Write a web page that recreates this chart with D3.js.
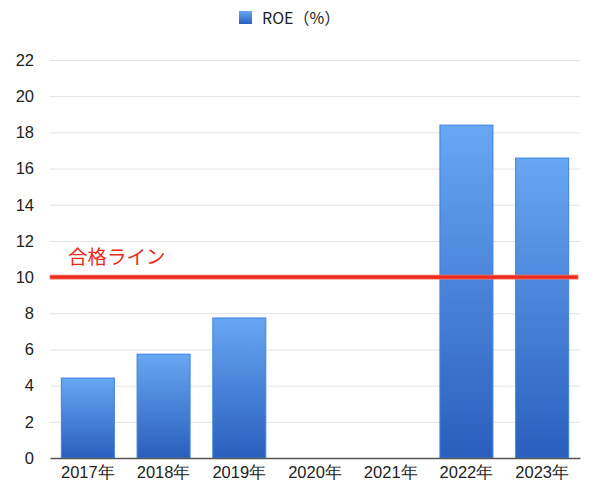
<!DOCTYPE html>
<html><head><meta charset="utf-8">
<script src="https://cdn.jsdelivr.net/npm/d3@7"></script>
<style>body{margin:0;background:#fff;font-family:"Noto Sans CJK JP","Liberation Sans",sans-serif;}</style>
</head><body><svg id="c" width="600" height="493"></svg>
<script>
const categories = ["2017年","2018年","2019年","2020年","2021年","2022年","2023年"];
const roeValues = [4.42, 5.74, 7.74, null, null, 18.4, 16.58];
const yTicks = [0,2,4,6,8,10,12,14,16,18,20,22];
const passLine = 10;
const seriesName = "ROE（%）";
const passLabel = "合格ライン";

const svg = d3.select("#c");
const m = {l:50, r:20, t:60, b:35};
const W = 600, H = 493;
const x = d3.scaleBand().domain(categories).range([m.l, W-m.r]).paddingInner(0.3).paddingOuter(0.15);
const y = d3.scaleLinear().domain([0,22]).range([H-m.b, m.t]);

const defs = svg.append("defs");
const g = defs.append("linearGradient").attr("id","bg").attr("x1",0).attr("y1",0).attr("x2",0).attr("y2",1);
g.append("stop").attr("offset","0%").attr("stop-color","#67a7f3");
g.append("stop").attr("offset","100%").attr("stop-color","#2a5fbd");

// grid
svg.append("g").selectAll("line").data(yTicks.filter(d=>d>0)).join("line")
  .attr("x1",m.l).attr("x2",W-m.r).attr("y1",d=>y(d)+0.5).attr("y2",d=>y(d)+0.5)
  .attr("stroke","#e3e3e3").attr("stroke-width",1);

// y labels
const ya = svg.append("g").attr("transform",`translate(${m.l},0)`)
  .call(d3.axisLeft(y).tickValues(yTicks).tickSize(0).tickPadding(16));
ya.select(".domain").remove();
ya.selectAll("text").attr("font-size",16.5).attr("fill","#222").attr("font-family","'Liberation Sans',sans-serif");

// bars
svg.append("g").selectAll("rect").data(categories.map((c,i)=>({c,v:roeValues[i]})).filter(d=>d.v!=null)).join("rect")
  .attr("x",d=>x(d.c)).attr("width",x.bandwidth())
  .attr("y",d=>y(d.v)).attr("height",d=>y(0)-y(d.v))
  .attr("fill","url(#bg)").attr("stroke","#3c82e0").attr("stroke-width",1);

// x axis
const xa = svg.append("g").attr("transform",`translate(0,${y(0)})`)
  .call(d3.axisBottom(x).tickSize(0).tickPadding(5));
xa.select(".domain").attr("stroke","#555").attr("stroke-width",1.5);
xa.selectAll("text").attr("font-size",16.5).attr("fill","#222").attr("dy","0.9em");

// pass line
svg.append("rect").attr("x",m.l).attr("width",W-m.r-2-m.l)
  .attr("y",y(passLine)-2).attr("height",4)
  .attr("fill","#ee2a1c").attr("stroke","#f07a70").attr("stroke-width",0.8);
svg.append("text").attr("x",68).attr("y",y(passLine)-13).text(passLabel)
  .attr("fill","#ee2a1a").attr("font-size",19.5);

// legend
svg.append("rect").attr("x",239).attr("y",11).attr("width",13).attr("height",13).attr("fill","url(#bg)");
svg.append("text").attr("x",262).attr("y",23.5).text(seriesName).attr("font-size",16).attr("fill","#222");
</script></body></html>
